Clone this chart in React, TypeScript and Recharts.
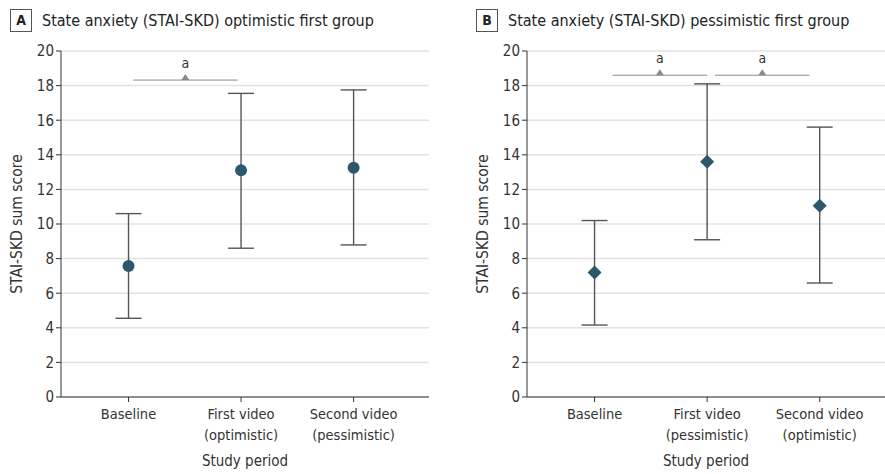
import { ComposedChart, Scatter, ErrorBar, XAxis, YAxis, CartesianGrid, ReferenceLine, ReferenceDot } from "recharts";

const FONT = "'Liberation Sans Narrow', 'DejaVu Sans Condensed', sans-serif";
const MARK = "#2d5869";

const yTicks = [0, 2, 4, 6, 8, 10, 12, 14, 16, 18, 20];

const periodsA = [["Baseline"], ["First video", "(optimistic)"], ["Second video", "(pessimistic)"]];
const meanA = [7.57, 13.1, 13.25];
const lowA = [4.55, 8.6, 8.79];
const highA = [10.6, 17.55, 17.75];

const periodsB = [["Baseline"], ["First video", "(pessimistic)"], ["Second video", "(optimistic)"]];
const meanB = [7.19, 13.6, 11.06];
const lowB = [4.16, 9.09, 6.59];
const highB = [10.2, 18.1, 15.6];

// significance brackets: [from, to, y]
const bracketsA = [[0.04, 0.97, 18.32]];
const bracketsB = [[0.16, 1.0, 18.6], [1.07, 1.91, 18.6]];

const rows = (mean: number[], low: number[], high: number[]) =>
  mean.map((m, i) => ({ x: i, y: m, err: [m - low[i], high[i] - m] }));

function Circle(props: any) {
  return <circle cx={props.cx} cy={props.cy} r={6} fill={MARK} />;
}

function Diamond(props: any) {
  const { cx, cy } = props;
  const s = 7;
  return <polygon points={`${cx},${cy - s} ${cx + s},${cy} ${cx},${cy + s} ${cx - s},${cy}`} fill={MARK} />;
}

function Triangle(props: any) {
  const { cx, cy } = props;
  return <polygon points={`${cx - 4},${cy + 3} ${cx + 4},${cy + 3} ${cx},${cy - 3}`} fill="#8a8a8a" />;
}

function Panel({ letter, title, periods, data, brackets, shape, width, right, domainMax }: any) {
  const tick = (p: any) => {
    const lines = periods[p.payload.value] || [];
    return (
      <text x={p.x} y={p.y + 15} textAnchor="middle" fill="#333" fontSize={14.5} fontFamily={FONT}>
        {lines.map((l: string, i: number) => (
          <tspan key={i} x={p.x} dy={i === 0 ? 0 : 21}>{l}</tspan>
        ))}
      </text>
    );
  };
  return (
    <div style={{ position: "relative", width, height: 474 }}>
      <div style={{ position: "absolute", left: 10, top: 9, width: 20, height: 21, border: "1px solid #555", textAlign: "center", lineHeight: "21px", fontFamily: FONT, fontWeight: "bold", fontSize: 14, color: "#222" }}>{letter}</div>
      <div style={{ position: "absolute", left: 42, top: 10, lineHeight: "22px", fontFamily: FONT, fontSize: 16, color: "#222", whiteSpace: "nowrap" }}>{title}</div>
      <div style={{ position: "absolute", left: 0, top: 0 }}>
        <ComposedChart width={width} height={474} data={data} margin={{ top: 51, right, bottom: 47, left: 0 }}>
          <CartesianGrid vertical={false} stroke="#e2e2e2" strokeWidth={1.5} />
          <XAxis
            type="number"
            dataKey="x"
            domain={[-0.6, domainMax]}
            ticks={[0, 1, 2]}
            tick={tick}
            tickSize={5}
            height={30}
            stroke="#333"
            allowDataOverflow
            label={{
              content: ({ viewBox }: any) => (
                <text x={viewBox.x + viewBox.width / 2} y={viewBox.y + 69} textAnchor="middle" fill="#333" fontSize={15} fontFamily={FONT}>Study period</text>
              ),
            }}
          />
          <YAxis
            type="number"
            domain={[0, 20]}
            ticks={yTicks}
            width={61}
            tickSize={5}
            stroke="#333"
            tick={{ fill: "#333", fontSize: 15, fontFamily: FONT }}
            label={{
              content: ({ viewBox }: any) => {
                const x = 17;
                const y = viewBox.y + viewBox.height / 2;
                return (
                  <text x={x} y={y} transform={`rotate(-90 ${x} ${y})`} textAnchor="middle" dominantBaseline="middle" fill="#333" fontSize={15.5} fontFamily={FONT}>STAI-SKD sum score</text>
                );
              },
            }}
          />
          {brackets.map((b: number[], i: number) => (
            <ReferenceLine key={"l" + i} segment={[{ x: b[0], y: b[2] }, { x: b[1], y: b[2] }]} stroke="#8a8a8a" strokeWidth={1} ifOverflow="visible" />
          ))}
          {brackets.map((b: number[], i: number) => (
            <ReferenceDot
              key={"d" + i}
              x={(b[0] + b[1]) / 2}
              y={b[2]}
              r={3}
              shape={(p: any) => <Triangle cx={p.cx} cy={p.cy - 3} />}
              ifOverflow="visible"
              label={{ value: "a", position: "top", offset: 9, fill: "#333", fontSize: 14, fontFamily: FONT }}
            />
          ))}
          <Scatter dataKey="y" shape={shape} isAnimationActive={false}>
            <ErrorBar dataKey="err" direction="y" width={13} stroke="#555" strokeWidth={1.4} />
          </Scatter>
        </ComposedChart>
      </div>
    </div>
  );
}

export default function App() {
  return (
    <div style={{ position: "absolute", left: 0, top: 0, width: 885, height: 474, background: "#fff" }}>
      <div style={{ position: "absolute", left: 0, top: 0 }}>
        <Panel letter="A" title="State anxiety (STAI-SKD) optimistic first group" periods={periodsA} data={rows(meanA, lowA, highA)} brackets={bracketsA} shape={Circle} width={440} right={11} domainMax={2.67} />
      </div>
      <div style={{ position: "absolute", left: 466, top: 0 }}>
        <Panel letter="B" title="State anxiety (STAI-SKD) pessimistic first group" periods={periodsB} data={rows(meanB, lowB, highB)} brackets={bracketsB} shape={Diamond} width={419} right={0} domainMax={2.58} />
      </div>
    </div>
  );
}
